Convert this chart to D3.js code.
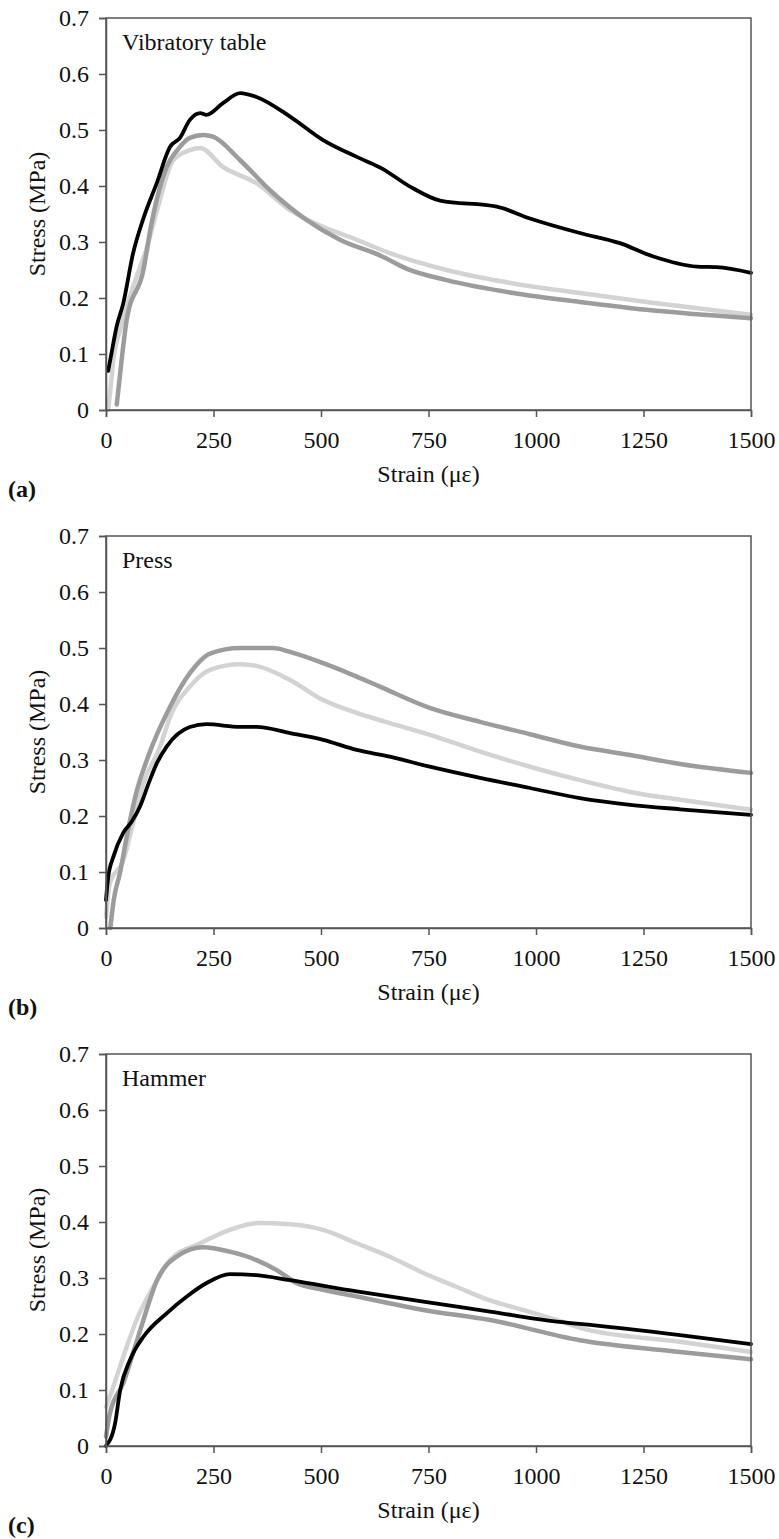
<html>
<head>
<meta charset="utf-8">
<script src="https://d3js.org/d3.v7.min.js"></script>
<style>
  body { margin: 0; background: #fff; }
  text { font-family: "Liberation Serif", "Times New Roman", serif; }
</style>
</head>
<body>
<svg id="chart" width="779" height="1539"></svg>
<script>
// panel names and tags
const panelNames = ["Vibratory table", "Press", "Hammer"];
const panelTags = ["(a)", "(b)", "(c)"];
const xTicks = [0, 250, 500, 750, 1000, 1250, 1500];
const yTicks = [0, 0.1, 0.2, 0.3, 0.4, 0.5, 0.6, 0.7];

// [strain (µε), stress (MPa)]
const vibBlack = [[5,0.07],[10,0.09],[25,0.15],[40,0.19],[63,0.28],[86,0.34],[118,0.405],[149,0.47],[172,0.486],[195,0.518],[219,0.53],[234,0.527],[272,0.548],[312,0.566],[350,0.559],[428,0.524],[505,0.482],[583,0.452],[640,0.432],[707,0.399],[777,0.374],[909,0.363],[986,0.342],[1102,0.316],[1195,0.298],[1273,0.274],[1374,0.256],[1420,0.255],[1500,0.245]];
const vibDark = [[25,0.01],[35,0.08],[48,0.16],[87,0.25],[105,0.33],[133,0.417],[172,0.47],[195,0.486],[226,0.491],[249,0.488],[312,0.446],[389,0.387],[467,0.339],[544,0.304],[640,0.275],[700,0.252],[792,0.232],[947,0.209],[1102,0.193],[1257,0.179],[1500,0.164]];
const vibLight = [[5,0.0],[12,0.05],[17,0.09],[33,0.143],[63,0.22],[95,0.29],[120,0.36],[156,0.446],[195,0.464],[219,0.468],[272,0.434],[350,0.405],[428,0.357],[505,0.327],[583,0.304],[660,0.28],[792,0.25],[947,0.226],[1102,0.209],[1257,0.193],[1500,0.17]];

const pressBlack = [[0,0.05],[5,0.09],[17,0.127],[40,0.17],[60,0.19],[79,0.217],[100,0.26],[118,0.294],[141,0.324],[195,0.359],[234,0.364],[312,0.359],[350,0.359],[428,0.348],[505,0.336],[583,0.318],[660,0.306],[753,0.288],[870,0.268],[986,0.25],[1102,0.232],[1219,0.22],[1335,0.212],[1500,0.202]];
const pressDark = [[10,0.0],[18,0.05],[33,0.1],[50,0.17],[70,0.24],[95,0.3],[149,0.395],[195,0.455],[242,0.49],[312,0.5],[389,0.5],[428,0.493],[505,0.473],[583,0.449],[637,0.431],[753,0.393],[870,0.368],[986,0.346],[1102,0.324],[1219,0.309],[1335,0.293],[1500,0.277]];
const pressLight = [[0,0.02],[9,0.08],[40,0.12],[63,0.187],[87,0.258],[126,0.324],[149,0.377],[195,0.431],[242,0.461],[312,0.471],[350,0.468],[428,0.443],[505,0.407],[583,0.384],[660,0.366],[753,0.345],[870,0.315],[986,0.288],[1102,0.264],[1219,0.243],[1335,0.229],[1500,0.211]];

const hamBlack = [[0,0.0],[21,0.04],[33,0.1],[56,0.154],[87,0.195],[141,0.237],[188,0.267],[234,0.291],[288,0.307],[350,0.305],[428,0.296],[583,0.276],[738,0.258],[893,0.24],[1048,0.222],[1102,0.218],[1335,0.198],[1500,0.182]];
const hamDark = [[0,0.017],[9,0.058],[40,0.112],[63,0.166],[87,0.225],[118,0.295],[164,0.338],[226,0.355],[288,0.347],[350,0.332],[397,0.314],[443,0.291],[505,0.279],[583,0.267],[738,0.243],[893,0.225],[1102,0.189],[1335,0.168],[1500,0.155]];
const hamLight = [[0,0.07],[17,0.106],[48,0.177],[71,0.225],[110,0.284],[149,0.332],[219,0.362],[288,0.386],[350,0.398],[428,0.396],[505,0.386],[583,0.362],[660,0.338],[738,0.309],[816,0.284],[893,0.26],[970,0.243],[1048,0.225],[1102,0.211],[1335,0.186],[1500,0.168]];

const panelSeries = [
  [vibLight, vibDark, vibBlack],
  [pressLight, pressDark, pressBlack],
  [hamLight, hamDark, hamBlack]
];
const seriesColors = ["#d3d3d3", "#9c9c9c", "#000000"];

const left = 106, w = 645, h = 392;
const tops = [18, 536, 1054];

const svg = d3.select("#chart");

const x = d3.scaleLinear().domain([0, 1500]).range([0, w]);
const y = d3.scaleLinear().domain([0, 0.7]).range([h, 0]);

const line = d3.line()
  .x(d => x(d[0]))
  .y(d => y(d[1]))
  .curve(d3.curveMonotoneX);

panelNames.forEach((name, i) => {
  const g = svg.append("g").attr("transform", `translate(${left},${tops[i]})`);

  // data lines
  panelSeries[i].forEach((s, k) => {
    g.append("path")
      .datum(s)
      .attr("d", line)
      .attr("fill", "none")
      .attr("stroke", seriesColors[k])
      .attr("stroke-width", k == 2 ? 3.8 : 4.5)
      .attr("stroke-linejoin", "round")
      .attr("stroke-linecap", "round");
  });

  // frame
  g.append("rect")
    .attr("width", w).attr("height", h)
    .attr("fill", "none").attr("stroke", "#555").attr("stroke-width", 1.5);

  const yAxis = g.append("g")
    .call(d3.axisLeft(y).tickValues(yTicks).tickSize(7).tickPadding(10)
      .tickFormat(d => d === 0 ? "0" : d.toFixed(1)));
  const xAxis = g.append("g").attr("transform", `translate(0,${h})`)
    .call(d3.axisBottom(x).tickValues(xTicks).tickSize(7).tickPadding(14)
      .tickFormat(d => String(d)));

  [xAxis, yAxis].forEach(a => {
    a.select(".domain").attr("stroke", "#555").attr("stroke-width", 1.5);
    a.selectAll(".tick line").attr("stroke", "#555").attr("stroke-width", 1.5);
    a.selectAll(".tick text")
      .attr("font-size", 24).attr("fill", "#111");
  });

  g.append("text")
    .attr("x", 16).attr("y", 32)
    .attr("font-size", 24).attr("fill", "#111")
    .text(name);

  g.append("text")
    .attr("x", w / 2).attr("y", h + 72)
    .attr("text-anchor", "middle")
    .attr("font-size", 24).attr("fill", "#111")
    .text("Strain (\u03bc\u03b5)");

  g.append("text")
    .attr("transform", `translate(${45 - left},${h / 2}) rotate(-90)`)
    .attr("text-anchor", "middle")
    .attr("font-size", 24).attr("fill", "#111")
    .text("Stress (MPa)");

  g.append("text")
    .attr("x", 8 - left).attr("y", h + 87)
    .attr("font-size", 24).attr("font-weight", "bold").attr("fill", "#111")
    .text(panelTags[i]);
});
</script>
</body>
</html>
